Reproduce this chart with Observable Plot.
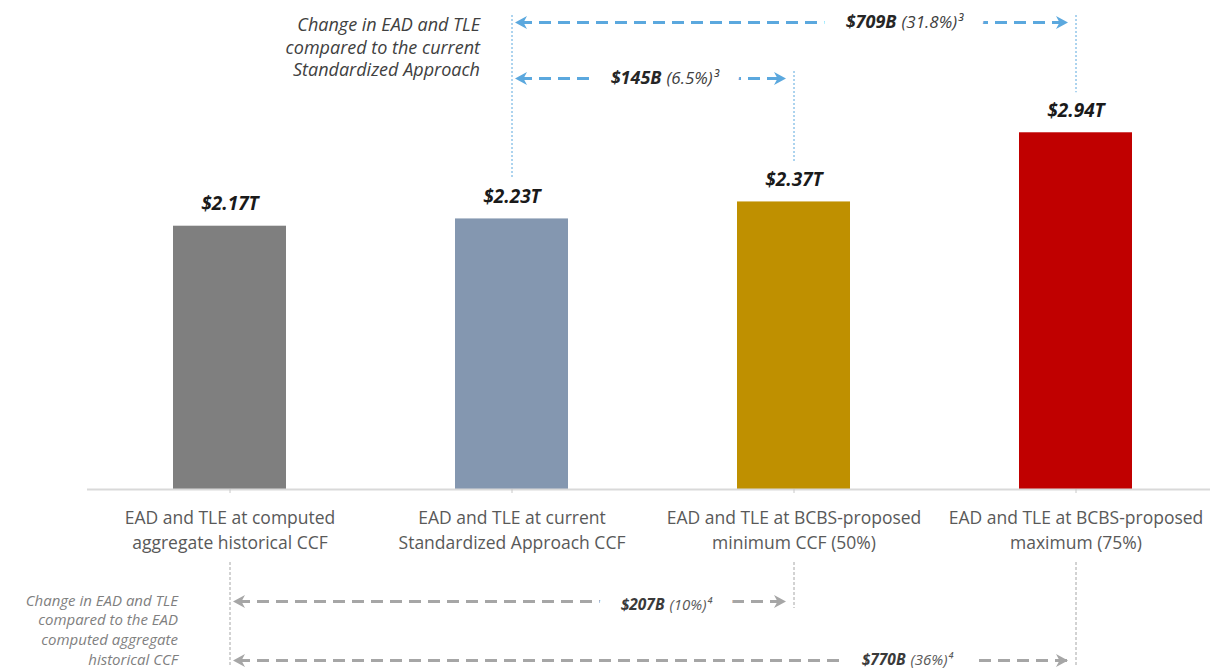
<!DOCTYPE html>
<html><head><meta charset="utf-8">
<script src="https://cdn.jsdelivr.net/npm/d3@7"></script>
<script src="https://cdn.jsdelivr.net/npm/@observablehq/plot@0.6"></script>
<style>
html,body{margin:0;padding:0;background:#fff;}
#chart{width:1210px;height:670px;overflow:hidden;}
</style></head><body><div id="chart"></div>
<script>
// ---------------- data ----------------
const categories = ["hist", "std", "min", "max"];
const categoryLabels = [
  "EAD and TLE at computed\naggregate historical CCF",
  "EAD and TLE at current\nStandardized Approach CCF",
  "EAD and TLE at BCBS-proposed\nminimum CCF (50%)",
  "EAD and TLE at BCBS-proposed\nmaximum (75%)"
];
const values = [2.17, 2.23, 2.37, 2.94];            // $ trillions
const valueLabels = ["$2.17T", "$2.23T", "$2.37T", "$2.94T"];
const barColors = ["#7f7f7f", "#8497b0", "#bf9000", "#c00000"];

// change annotations
const changeGroup = ["std", "std", "hist", "hist"];
const changeFrom = ["std", "std", "hist", "hist"];
const changeTo = ["max", "min", "min", "max"];
const changeAmount = ["$709B", "$145B", "$207B", "$770B"];
const changePct = ["(31.8%)³", "(6.5%)³", "(10%)⁴", "(36%)⁴"];
const groupNotes = {
  std: "Change in EAD and TLE\ncompared to the current\nStandardized Approach",
  hist: "Change in EAD and TLE\ncompared to the EAD\ncomputed aggregate\nhistorical CCF"
};

// ---------------- layout (pixels) ----------------
const W = 1210, H = 670;
const margin = {top: 125, right: 0, bottom: 181, left: 87};
const yTop = 3;
const yPx = d3.scaleLinear([0, yTop], [H - margin.bottom, margin.top]);
const rowPx = [22, 78, 601, 660];          // vertical row of each change arrow
const labelDx = [-177, -130, -127, -168];  // label split point relative to target bar
const labelDy = [0, 0, 4, 0];
const style = {
  std: {color: "#5ba8de", amountFill: "#262626", pctFill: "#404040", amountSize: 18, pctSize: 17,
        noteFill: "#404040", noteSize: 18, noteLH: 1.25, noteDx: -32, noteDy: -4},
  hist: {color: "#a6a6a6", amountFill: "#3a3a3a", pctFill: "#595959", amountSize: 15.5, pctSize: 15,
         noteFill: "#7f7f7f", noteSize: 15, noteLH: 1.32, noteDx: -52, noteDy: -2}
};
const font = "'Open Sans', 'Noto Sans', sans-serif";

// ---------------- derived tables ----------------
const bars = categories.map((c, i) => ({cat: c, value: values[i], label: valueLabels[i]}));
const valueOf = Object.fromEntries(bars.map(b => [b.cat, b.value]));
const labelOf = Object.fromEntries(categories.map((c, i) => [c, categoryLabels[i]]));
const changes = changeFrom.map((f, i) => ({
  group: changeGroup[i], from: f, to: changeTo[i], amount: changeAmount[i], pct: changePct[i],
  row: rowPx[i], y: yPx.invert(rowPx[i]), dx: labelDx[i], dy: labelDy[i]
}));

// leader lines
const leaders = [];
for (const g of ["std", "hist"]) {
  const cs = changes.filter(c => c.group === g);
  const cats = [...new Set(cs.flatMap(c => [c.from, c.to]))];
  for (const cat of cats) {
    const rows = cs.filter(c => c.from === cat || c.to === cat).map(c => c.row);
    let top, bottom;
    if (g === "std") { top = Math.min(...rows) - 7; bottom = yPx(valueOf[cat]) - 40; }
    else { top = H - margin.bottom + 73; bottom = Math.min(H, Math.max(...rows) + 7); }
    leaders.push({group: g, cat, y1: yPx.invert(top), y2: yPx.invert(bottom)});
  }
}
const notes = ["std", "hist"].map(g => {
  const rs = changes.filter(c => c.group === g).map(c => c.row);
  return {group: g, cat: changes.find(c => c.group === g).from, text: groupNotes[g],
          y: yPx.invert((Math.min(...rs) + Math.max(...rs)) / 2)};
});

const leftHead = {draw(ctx) { ctx.moveTo(0, 0); ctx.lineTo(12, -6.5); ctx.lineTo(8.5, 0); ctx.lineTo(12, 6.5); ctx.closePath(); }};
const rightHead = {draw(ctx) { ctx.moveTo(0, 0); ctx.lineTo(-12, -6.5); ctx.lineTo(-8.5, 0); ctx.lineTo(-12, 6.5); ctx.closePath(); }};

// ---------------- marks ----------------
const marks = [
  Plot.barY(bars, {x: "cat", y: "value", fill: "cat", inset: 0}),
  Plot.ruleY([0], {stroke: "#d9d9d9", strokeWidth: 2}),
  Plot.axisX({tickSize: 4, tickPadding: 13, tickFormat: d => labelOf[d], fontSize: 17.5, lineHeight: 1.43,
              fill: "#595959", stroke: "#c8c8c8", label: null}),
  Plot.text(bars, {x: "cat", y: "value", text: "label", lineAnchor: "bottom", dy: -16,
                   fontWeight: "bold", fontStyle: "italic", fontSize: 19, fill: "#1a1a1a"})
];

for (const g of ["std", "hist"]) {
  const s = style[g];
  marks.push(Plot.ruleX(leaders.filter(d => d.group === g), {
    x: "cat", y1: "y1", y2: "y2", stroke: s.color, strokeWidth: 1, strokeDasharray: g === "std" ? "2,2" : "3,2"
  }));
}

for (const c of changes) {
  const s = style[c.group];
  marks.push(
    Plot.arrow([c], {x1: "from", x2: "to", y1: "y", y2: "y", stroke: s.color, strokeWidth: 3,
                     strokeDasharray: "12,7", strokeLinecap: "butt", headLength: 0, insetStart: 8, insetEnd: 8}),
    // white halo to open a gap in the dashed line behind the label
    Plot.text([c], {x: "to", y: "y", text: "amount", textAnchor: "end", dx: c.dx - 2.5, dy: c.dy,
                    fontWeight: "bold", fontStyle: "italic", fontSize: s.amountSize,
                    fill: "white", stroke: "white", strokeWidth: 44}),
    Plot.text([c], {x: "to", y: "y", text: "pct", textAnchor: "start", dx: c.dx + 2.5, dy: c.dy,
                    fontStyle: "italic", fontSize: s.pctSize, fill: "white", stroke: "white", strokeWidth: 40}),
    Plot.dot([c], {x: "from", y: "y", symbol: leftHead, fill: s.color, stroke: "none", dx: 3}),
    Plot.dot([c], {x: "to", y: "y", symbol: rightHead, fill: s.color, stroke: "none", dx: -8})
  );
}
for (const c of changes) {
  const s = style[c.group];
  marks.push(
    Plot.text([c], {x: "to", y: "y", text: "amount", textAnchor: "end", dx: c.dx - 2.5, dy: c.dy,
                    fontWeight: "bold", fontStyle: "italic", fontSize: s.amountSize, fill: s.amountFill}),
    Plot.text([c], {x: "to", y: "y", text: "pct", textAnchor: "start", dx: c.dx + 2.5, dy: c.dy,
                    fontStyle: "italic", fontSize: s.pctSize, fill: s.pctFill})
  );
}
for (const n of notes) {
  const s = style[n.group];
  marks.push(Plot.text([n], {x: "cat", y: "y", text: "text", textAnchor: "end", lineAnchor: "middle",
    dx: s.noteDx, dy: s.noteDy, fontStyle: "italic", fontSize: s.noteSize, lineHeight: s.noteLH, fill: s.noteFill}));
}

const chart = Plot.plot({
  width: W, height: H,
  marginTop: margin.top, marginRight: margin.right, marginBottom: margin.bottom, marginLeft: margin.left,
  style: {fontFamily: font, fontSize: "16px", background: "white", overflow: "visible"},
  x: {domain: categories, range: [87, 1218], paddingInner: 0.6, paddingOuter: 0.3, axis: null},
  y: {domain: [0, yTop], axis: null},
  color: {domain: categories, range: barColors},
  marks
});
document.getElementById("chart").appendChild(chart);
</script>
</body></html>
